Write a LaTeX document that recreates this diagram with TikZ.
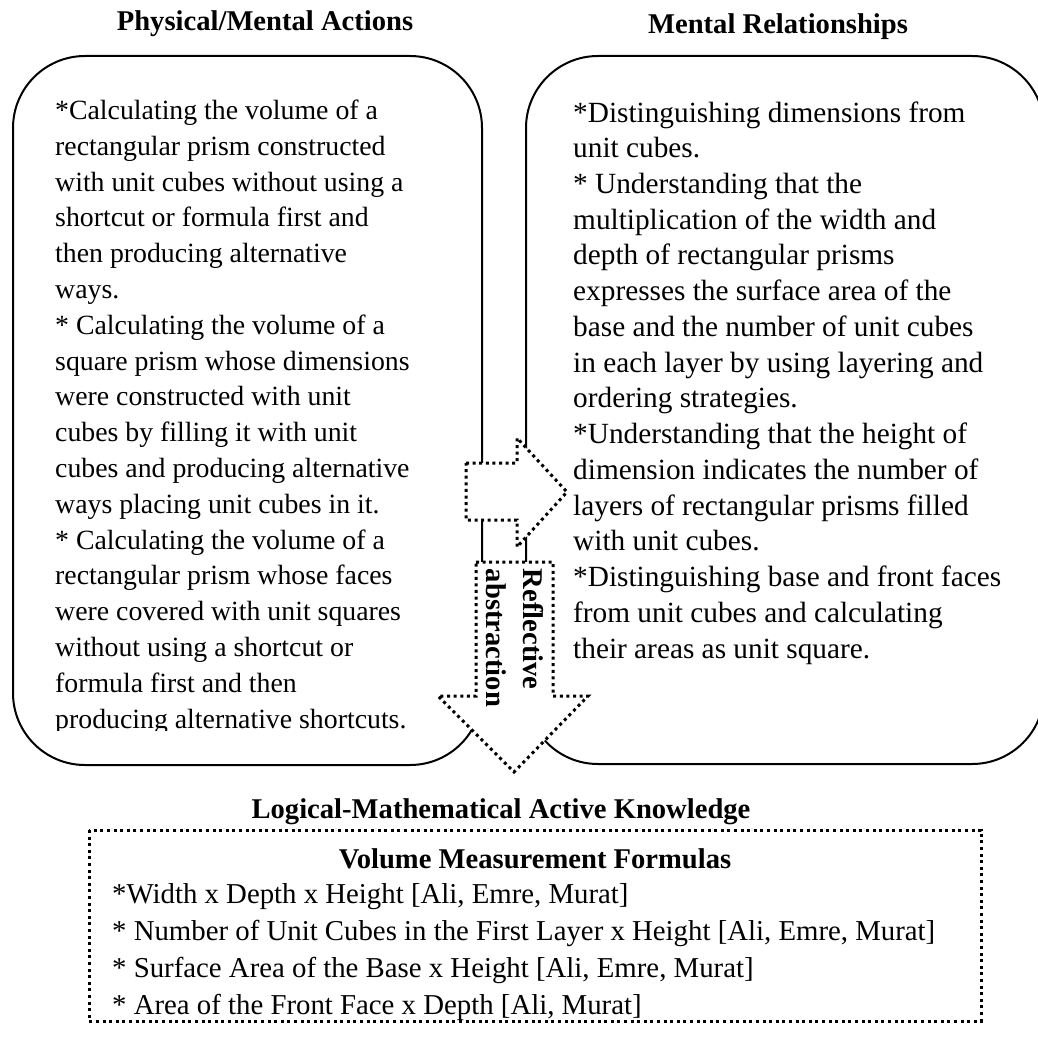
\documentclass[tikz,border=0pt]{standalone}
\usepackage{fontspec}
\setmainfont{Liberation Serif}
\begin{document}
\begin{tikzpicture}[x=1pt,y=-1pt,
  box/.style={draw, line width=2pt, rounded corners=72pt},
  dotbox/.style={draw, line width=3pt, dash pattern=on 3pt off 3.6pt, line join=miter},
  body/.style={inner sep=0pt, align=left, font=\fontsize{27.8}{35.8}\selectfont},
  bodyr/.style={body, font=\fontsize{29.3}{35.73}\selectfont},
  formula/.style={inner sep=0pt, align=left, font=\fontsize{28.8}{36.7}\selectfont},
  title/.style={inner sep=0pt, font=\fontsize{28.6}{37}\selectfont\bfseries},
]
\useasboundingbox (0,0) rectangle (1038,1041);

% column titles
\node[title, anchor=base] (tl) at (265,31) {Physical/Mental Actions};
\node[title, anchor=base] (tr) at (778,34) {Mental Relationships};

% the two rounded frames
\draw[box] (13,56) rectangle (482,765);
\draw[box] (526,56) rectangle (1044,764);

% left column text (last line cut off at the bottom); base = last line
\begin{scope}
\clip (0,0) rectangle (1038,730);
\node[body, anchor=base west] (lt) at (55,728) {*Calculating the volume of a\\
rectangular prism constructed\\
with unit cubes without using a\\
shortcut or formula first and\\
then producing alternative\\
ways.\\
* Calculating the volume of a\\
square prism whose dimensions\\
were constructed with unit\\
cubes by filling it with unit\\
cubes and producing alternative\\
ways placing unit cubes in it.\\
* Calculating the volume of a\\
rectangular prism whose faces\\
were covered with unit squares\\
without using a shortcut or\\
formula first and then\\
producing alternative shortcuts.};
\end{scope}

% right column text
\node[bodyr, anchor=base west] (rt) at (573,658) {*Distinguishing dimensions from\\
unit cubes.\\
* Understanding that the\\
multiplication of the width and\\
depth of rectangular prisms\\
expresses the surface area of the\\
base and the number of unit cubes\\
in each layer by using layering and\\
ordering strategies.\\
*Understanding that the height of\\
dimension indicates the number of\\
layers of rectangular prisms filled\\
with unit cubes.\\
*Distinguishing base and front faces\\
from unit cubes and calculating\\
their areas as unit square.};

% block arrows
\draw[dotbox, fill=white] (466,463) -- (517,463) -- (517,438) -- (567,492)
  -- (517,547) -- (517,520) -- (466,520) -- cycle;
\draw[dotbox, fill=white] (476,562) -- (553,562) -- (553,696) -- (588,696)
  -- (514,772) -- (438,696) -- (476,696) -- cycle;
\node[title, rotate=-90, align=left] (ra) at (515,638) {Reflective\\abstraction};

% result frame
\node[title, anchor=base] (lm) at (501,818) {Logical-Mathematical Active Knowledge};
\draw[dotbox] (89,830) rectangle (981,1021);
\node[title, anchor=base] (vm) at (535,868) {Volume Measurement Formulas};
\node[formula, anchor=base west] (fm) at (112,1014) {*Width x Depth x Height [Ali, Emre, Murat]\\
* Number of Unit Cubes in the First Layer x Height [Ali, Emre, Murat]\\
* Surface Area of the Base x Height [Ali, Emre, Murat]\\
* Area of the Front Face x Depth [Ali, Murat]};
\end{tikzpicture}
\end{document}
